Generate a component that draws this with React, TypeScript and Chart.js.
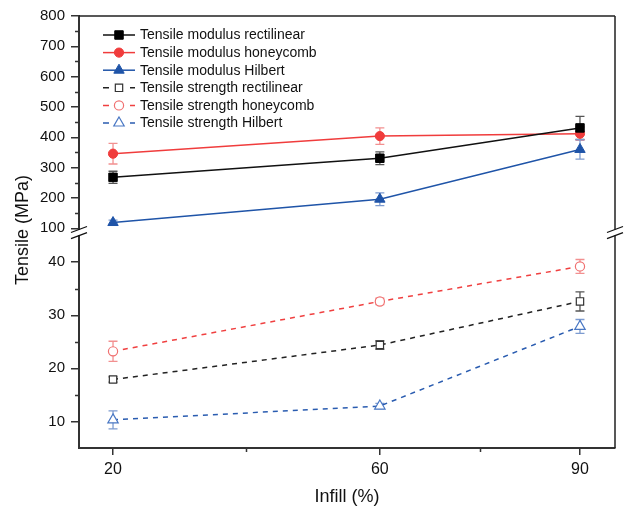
import React, { useEffect, useRef } from 'react';
import { Chart, registerables } from 'chart.js';

Chart.register(...registerables);

const FONT = '"Liberation Sans", Arial, Helvetica, sans-serif';

// ---- data ----
const infill = [20, 60, 90];

const modulusRectilinear = [268, 331, 431];
const modulusRectilinearErr = [20, 21, 38];
const modulusHoneycomb = [346, 404, 412];
const modulusHoneycombErr = [34, 27, 22];
const modulusHilbert = [119, 196, 360];
const modulusHilbertErr = [8, 21, 32];

const strengthRectilinear = [17.9, 24.4, 32.6];
const strengthRectilinearErr = [0.5, 0.8, 1.8];
const strengthHoneycomb = [23.2, 32.6, 39.2];
const strengthHoneycombErr = [1.9, 0.6, 1.3];
const strengthHilbert = [10.3, 12.9, 27.9];
const strengthHilbertErr = [1.7, 0.5, 1.3];

const seriesLabels = [
  'Tensile modulus rectilinear',
  'Tensile modulus honeycomb',
  'Tensile modulus Hilbert',
  'Tensile strength rectilinear',
  'Tensile strength honeycomb',
  'Tensile strength Hilbert',
];

const upperTicks = [100, 200, 300, 400, 500, 600, 700, 800];
const upperMinorTicks = [150, 250, 350, 450, 550, 650, 750];
const lowerTicks = [10, 20, 30, 40];
const lowerMinorTicks = [15, 25, 35];
const xTicks = [20, 60, 90];
const xMinorTicks = [40, 75];

const yTitle = 'Tensile (MPa)';
const xTitle = 'Infill (%)';

function drawMarker(
  ctx: CanvasRenderingContext2D,
  style: string,
  x: number,
  y: number,
  r: number,
  fill: string,
  stroke: string,
  lw: number
) {
  ctx.save();
  ctx.setLineDash([]);
  ctx.beginPath();
  if (style === 'rect') {
    const s = r * Math.SQRT1_2;
    ctx.rect(x - s, y - s, 2 * s, 2 * s);
  } else if (style === 'circle') {
    ctx.arc(x, y, r, 0, Math.PI * 2);
  } else {
    let a = 0;
    ctx.moveTo(x + Math.sin(a) * r, y - Math.cos(a) * r);
    a += (2 * Math.PI) / 3;
    ctx.lineTo(x + Math.sin(a) * r, y - Math.cos(a) * r);
    a += (2 * Math.PI) / 3;
    ctx.lineTo(x + Math.sin(a) * r, y - Math.cos(a) * r);
  }
  ctx.closePath();
  ctx.fillStyle = fill;
  ctx.fill();
  ctx.lineWidth = lw;
  ctx.strokeStyle = stroke;
  ctx.stroke();
  ctx.restore();
}

const errorBarPlugin = {
  id: 'errorBars',
  beforeDatasetsDraw(chart: any) {
    const ctx = chart.ctx as CanvasRenderingContext2D;
    chart.data.datasets.forEach((ds: any, i: number) => {
      const meta = chart.getDatasetMeta(i);
      const yScale = chart.scales[ds.yAxisID];
      ctx.save();
      ctx.strokeStyle = ds.errorColor;
      ctx.lineWidth = 1.3;
      ctx.setLineDash([]);
      meta.data.forEach((pt: any, j: number) => {
        const v = ds.data[j].y;
        const e = ds.errors[j];
        const x = pt.x;
        const yt = yScale.getPixelForValue(v + e);
        const yb = yScale.getPixelForValue(v - e);
        ctx.beginPath();
        ctx.moveTo(x, yt);
        ctx.lineTo(x, yb);
        ctx.moveTo(x - 4.5, yt);
        ctx.lineTo(x + 4.5, yt);
        ctx.moveTo(x - 4.5, yb);
        ctx.lineTo(x + 4.5, yb);
        ctx.stroke();
      });
      ctx.restore();
    });
  },
};

const decorPlugin = {
  id: 'decor',
  afterDraw(chart: any) {
    const ctx = chart.ctx as CanvasRenderingContext2D;
    const area = chart.chartArea;
    const yU = chart.scales.yUpper;
    const yL = chart.scales.yLower;
    const xs = chart.scales.x;
    const L = area.left;
    const R = area.right;
    const T = area.top;
    const B = area.bottom;
    const breakTop = yU.bottom;
    const breakBot = yL.getPixelForValue(45);

    ctx.save();
    // minor ticks
    ctx.strokeStyle = '#333';
    ctx.lineWidth = 1.5;
    ctx.beginPath();
    upperMinorTicks.forEach((v) => {
      const y = Math.round(yU.getPixelForValue(v)) + 0.5;
      ctx.moveTo(L - 4, y);
      ctx.lineTo(L, y);
    });
    lowerMinorTicks.forEach((v) => {
      const y = Math.round(yL.getPixelForValue(v)) + 0.5;
      ctx.moveTo(L - 4, y);
      ctx.lineTo(L, y);
    });
    xMinorTicks.forEach((v) => {
      const x = Math.round(xs.getPixelForValue(v)) + 0.5;
      ctx.moveTo(x, B);
      ctx.lineTo(x, B + 4);
    });
    ctx.stroke();

    // frame top and right
    ctx.strokeStyle = '#222';
    ctx.lineWidth = 1.5;
    ctx.beginPath();
    ctx.moveTo(L, T);
    ctx.lineTo(R, T);
    ctx.moveTo(R, T);
    ctx.lineTo(R, breakTop);
    ctx.moveTo(R, breakBot);
    ctx.lineTo(R, B);
    ctx.stroke();

    // erase gap on left axis
    ctx.fillStyle = '#fff';
    ctx.fillRect(L - 3, breakTop + 0.5, 6, breakBot - breakTop - 1);

    // break marks
    ctx.strokeStyle = '#111';
    ctx.lineWidth = 1.3;
    [L, R].forEach((x) => {
      ctx.beginPath();
      ctx.moveTo(x - 8, breakTop + 3);
      ctx.lineTo(x + 8, breakTop - 3);
      ctx.moveTo(x - 8, breakBot + 3);
      ctx.lineTo(x + 8, breakBot - 3);
      ctx.stroke();
    });

    // axis titles
    ctx.fillStyle = '#111';
    ctx.font = `18px ${FONT}`;
    ctx.textAlign = 'center';
    ctx.textBaseline = 'middle';
    ctx.fillText(xTitle, (L + R) / 2, 497);
    ctx.save();
    ctx.translate(23, 230);
    ctx.rotate(-Math.PI / 2);
    ctx.fillText(yTitle, 0, 0);
    ctx.restore();

    // legend
    ctx.font = `14px ${FONT}`;
    ctx.textAlign = 'left';
    chart.data.datasets.forEach((ds: any, i: number) => {
      const y = 35 + i * 17.6;
      ctx.strokeStyle = ds.borderColor;
      ctx.lineWidth = 1.5;
      ctx.setLineDash([]);
      ctx.beginPath();
      if (ds.borderDash && ds.borderDash.length) {
        ctx.moveTo(103, y);
        ctx.lineTo(109, y);
        ctx.moveTo(130, y);
        ctx.lineTo(135, y);
      } else {
        ctx.moveTo(103, y);
        ctx.lineTo(135, y);
      }
      ctx.stroke();
      drawMarker(ctx, ds.pointStyle, 119, y, ds.pointRadius, ds.pointBackgroundColor, ds.pointBorderColor, ds.pointBorderWidth);
      ctx.fillStyle = '#111';
      ctx.fillText(ds.label, 140, y + 0.5);
    });
    ctx.restore();
  },
};

function series(
  label: string,
  values: number[],
  errors: number[],
  yAxisID: string,
  color: string,
  errorColor: string,
  pointStyle: string,
  radius: number,
  hollow: boolean,
  markerColor: string
) {
  return {
    label,
    data: infill.map((x, i) => ({ x, y: values[i] })),
    errors,
    errorColor,
    yAxisID,
    xAxisID: 'x',
    borderColor: color,
    borderWidth: 1.5,
    borderDash: hollow ? [5, 5] : [],
    pointStyle,
    pointRadius: radius,
    pointHoverRadius: radius,
    pointBackgroundColor: hollow ? '#ffffff' : markerColor,
    pointBorderColor: markerColor,
    pointBorderWidth: hollow ? 1.2 : 1,
    tension: 0,
    fill: false,
  };
}

export default function App() {
  const ref = useRef<HTMLCanvasElement>(null);

  useEffect(() => {
    const canvas = ref.current;
    if (!canvas) return;

    const datasets = [
      series(seriesLabels[0], modulusRectilinear, modulusRectilinearErr, 'yUpper', '#111111', '#555555', 'rect', 6, false, '#000000'),
      series(seriesLabels[1], modulusHoneycomb, modulusHoneycombErr, 'yUpper', '#f03c3c', '#f29090', 'circle', 4.6, false, '#f03c3c'),
      series(seriesLabels[2], modulusHilbert, modulusHilbertErr, 'yUpper', '#1f54a8', '#7d9bd0', 'triangle', 6, false, '#1f54a8'),
      series(seriesLabels[3], strengthRectilinear, strengthRectilinearErr, 'yLower', '#222222', '#555555', 'rect', 5.2, true, '#333333'),
      series(seriesLabels[4], strengthHoneycomb, strengthHoneycombErr, 'yLower', '#f04040', '#f29090', 'circle', 4.6, true, '#f07070'),
      series(seriesLabels[5], strengthHilbert, strengthHilbertErr, 'yLower', '#2a5cb0', '#7d9bd0', 'triangle', 6, true, '#4a78c4'),
    ];

    const tickFont = { family: FONT, size: 15 };

    const chart = new Chart(canvas, {
      type: 'line',
      data: { datasets: datasets as any },
      options: {
        responsive: false,
        animation: false,
        events: [],
        layout: { padding: { top: 16, right: 9, left: 0, bottom: 0 } },
        plugins: {
          legend: { display: false },
          tooltip: { enabled: false },
        },
        scales: {
          x: {
            type: 'linear',
            position: 'bottom',
            min: 14.9,
            max: 95.25,
            afterBuildTicks: (s: any) => {
              s.ticks = xTicks.map((v) => ({ value: v }));
            },
            afterFit: (s: any) => {
              s.height = 66;
            },
            grid: { display: true, drawOnChartArea: false, drawTicks: true, tickLength: 7, color: '#333', lineWidth: 1.5 },
            border: { display: true, color: '#333', width: 2 },
            ticks: { font: { family: FONT, size: 16 }, color: '#111', padding: 5, maxRotation: 0, autoSkip: false },
          },
          yUpper: {
            type: 'linear',
            position: 'left',
            stack: 'ystack',
            stackWeight: 213.5,
            weight: 2,
            min: 96,
            max: 800,
            afterBuildTicks: (s: any) => {
              s.ticks = upperTicks.map((v) => ({ value: v }));
            },
            afterFit: (s: any) => {
              s.width = 79;
            },
            grid: { display: true, drawOnChartArea: false, drawTicks: true, tickLength: 8, color: '#333', lineWidth: 1.5 },
            border: { display: true, color: '#333', width: 2 },
            ticks: { font: tickFont, color: '#111', padding: 6, autoSkip: false },
          },
          yLower: {
            type: 'linear',
            position: 'left',
            stack: 'ystack',
            stackWeight: 218.5,
            weight: 1,
            min: 5,
            max: 46.15,
            afterBuildTicks: (s: any) => {
              s.ticks = lowerTicks.map((v) => ({ value: v }));
            },
            afterFit: (s: any) => {
              s.width = 79;
            },
            grid: { display: true, drawOnChartArea: false, drawTicks: true, tickLength: 8, color: '#333', lineWidth: 1.5 },
            border: { display: true, color: '#333', width: 2 },
            ticks: { font: tickFont, color: '#111', padding: 6, autoSkip: false },
          },
        },
      } as any,
      plugins: [errorBarPlugin, decorPlugin],
    });

    return () => chart.destroy();
  }, []);

  return (
    <div style={{ position: 'fixed', left: 0, top: 0, width: 624, height: 514, background: '#fff' }}>
      <canvas ref={ref} width={624} height={514} style={{ display: 'block' }} />
    </div>
  );
}
